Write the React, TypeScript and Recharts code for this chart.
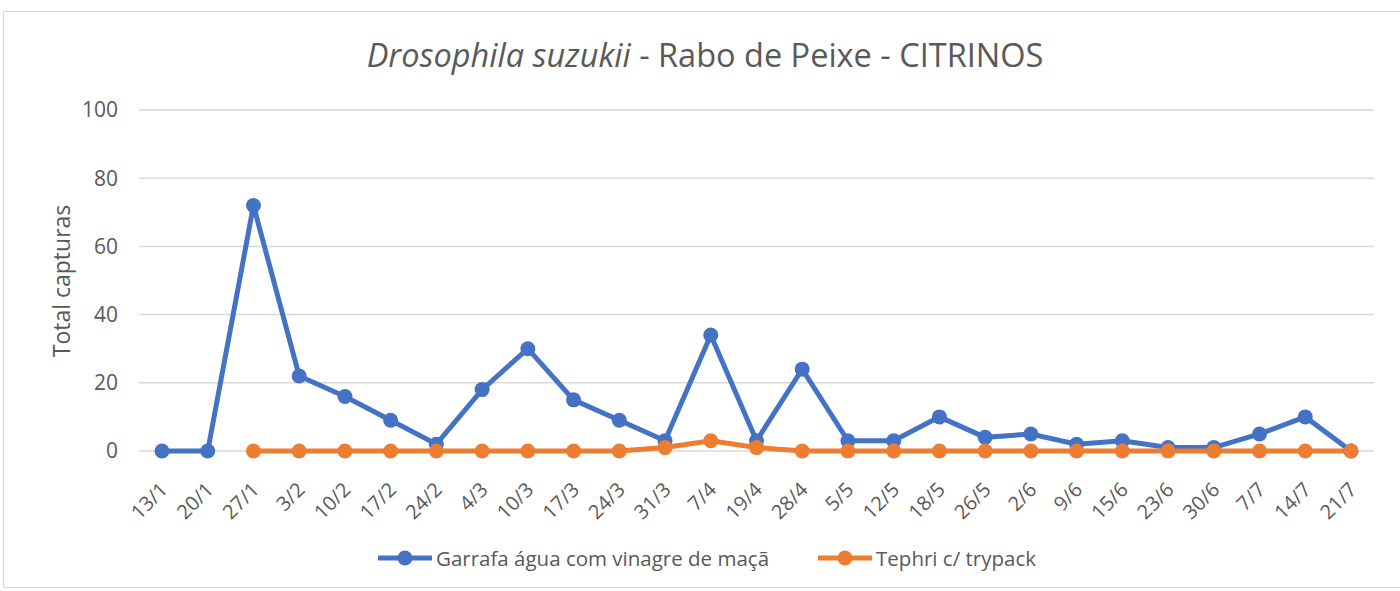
import React from 'react';
import { LineChart, Line, XAxis, YAxis, CartesianGrid } from 'recharts';

const dates = [
  '13/1', '20/1', '27/1', '3/2', '10/2', '17/2', '24/2', '4/3', '10/3', '17/3',
  '24/3', '31/3', '7/4', '19/4', '28/4', '5/5', '12/5', '18/5', '26/5', '2/6',
  '9/6', '15/6', '23/6', '30/6', '7/7', '14/7', '21/7',
];
const garrafa = [0, 0, 72, 22, 16, 9, 2, 18, 30, 15, 9, 3, 34, 3, 24, 3, 3, 10, 4, 5, 2, 3, 1, 1, 5, 10, 0];
const tephri = [null, null, 0, 0, 0, 0, 0, 0, 0, 0, 0, 1, 3, 1, 0, 0, 0, 0, 0, 0, 0, 0, 0, 0, 0, 0, 0];
const yTicks = [0, 20, 40, 60, 80, 100];

const BLUE = '#4472C4';
const ORANGE = '#ED7D31';
const TEXT = '#595959';
const FONT = '"Open Sans", sans-serif';

const data = dates.map((d, i) => ({ date: d, garrafa: garrafa[i], tephri: tephri[i] }));

const XTick = (props: any) => {
  const { x, y, payload } = props;
  return (
    <g transform={`translate(${x + 2},${y + 27})`}>
      <text
        transform="rotate(-45)"
        textAnchor="end"
        dy="0.35em"
        fill={TEXT}
        fontSize={20}
        fontFamily={FONT}
      >
        {payload.value}
      </text>
    </g>
  );
};

const legendItems = [
  { label: 'Garrafa água com vinagre de maçã', color: BLUE },
  { label: 'Tephri c/ trypack', color: ORANGE },
];

export default function App() {
  return (
    <div style={{ position: 'absolute', left: 0, top: 0, width: 1400, height: 591, background: '#fff', overflow: 'hidden' }}>
      <div style={{ position: 'absolute', left: 3, top: 11, width: 1410, height: 575, border: '1px solid #d9d9d9' }} />
      <div
        style={{
          position: 'absolute', left: 0, top: 32, width: 1410, textAlign: 'center',
          fontFamily: FONT, fontSize: 32.5, color: TEXT,
        }}
      >
        <i>Drosophila suzukii</i> - Rabo de Peixe - CITRINOS
      </div>
      <div
        style={{
          position: 'absolute', left: 61, top: 281, transform: 'translate(-50%, -50%) rotate(-90deg)',
          fontFamily: FONT, fontSize: 23, color: TEXT, whiteSpace: 'nowrap',
        }}
      >
        Total capturas
      </div>
      <div style={{ position: 'absolute', left: 0, top: 0 }}>
        <LineChart width={1400} height={591} data={data} margin={{ top: 110, right: 26, left: 0, bottom: 55 }}>
          <CartesianGrid vertical={false} stroke="#d9d9d9" strokeWidth={1.5} />
          <XAxis
            dataKey="date"
            interval={0}
            padding={{ left: 23, right: 23 }}
            axisLine={false}
            tickLine={false}
            tick={<XTick />}
            height={85}
          />
          <YAxis
            domain={[0, 100]}
            ticks={yTicks}
            axisLine={false}
            tickLine={false}
            tickSize={0}
            tickMargin={21}
            width={139}
            tick={{ fill: TEXT, fontSize: 21, fontFamily: FONT }}
          />
          <Line
            dataKey="garrafa"
            stroke={BLUE}
            strokeWidth={5}
            dot={{ r: 7.5, fill: BLUE, stroke: BLUE, strokeWidth: 0 }}
            isAnimationActive={false}
          />
          <Line
            dataKey="tephri"
            stroke={ORANGE}
            strokeWidth={5}
            dot={{ r: 7.5, fill: ORANGE, stroke: ORANGE, strokeWidth: 0 }}
            isAnimationActive={false}
          />
        </LineChart>
      </div>
      <div
        style={{
          position: 'absolute', left: 0, top: 544, width: 1414, display: 'flex', justifyContent: 'center',
          gap: 49, fontFamily: FONT, fontSize: 20.5, color: TEXT,
        }}
      >
        {legendItems.map((it) => (
          <div key={it.label} style={{ display: 'flex', alignItems: 'center' }}>
            <svg width={54} height={16} style={{ marginRight: 4 }}>
              <line x1={0} y1={8} x2={54} y2={8} stroke={it.color} strokeWidth={5} />
              <circle cx={27} cy={8} r={7.5} fill={it.color} />
            </svg>
            <span>{it.label}</span>
          </div>
        ))}
      </div>
    </div>
  );
}
